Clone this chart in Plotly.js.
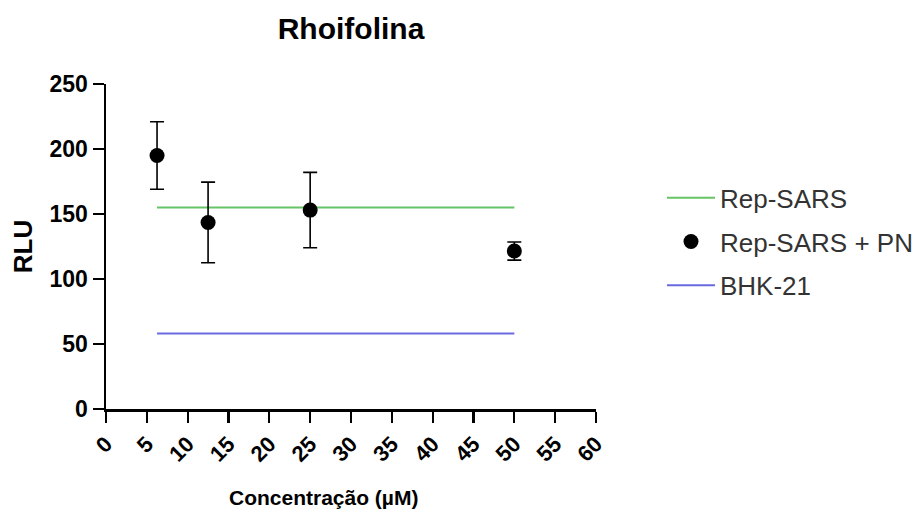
<!DOCTYPE html>
<html>
<head>
<meta charset="utf-8">
<script src="https://cdn.plot.ly/plotly-3.0.1.min.js"></script>
<style>html,body{margin:0;padding:0;background:#fff;}#chart{width:922px;height:512px;}</style>
</head>
<body>
<div id="chart"></div>
<script>
const concentrations = [6.25, 12.5, 25, 50];
const rlu = [195, 143.5, 153, 121.5];
const rluErr = [26, 31, 29, 7];
const lineX = [6.25, 50];
const repSarsLevel = [155, 155];
const bhkLevel = [58, 58];
const xTicks = [0, 5, 10, 15, 20, 25, 30, 35, 40, 45, 50, 55, 60];
const yTicks = [0, 50, 100, 150, 200, 250];

const fontFam = '"Liberation Sans", Arial, sans-serif';

const traces = [
  {
    x: lineX, y: repSarsLevel, name: 'Rep-SARS', mode: 'lines', legendgroup: 'a',
    line: {color: '#66c466', width: 2}, hoverinfo: 'skip'
  },
  {
    x: concentrations, y: rlu, name: 'Rep-SARS + PN', mode: 'markers', legendgroup: 'b',
    marker: {color: '#000', size: 15},
    error_y: {type: 'data', array: rluErr, visible: true, color: '#000', thickness: 1.6, width: 7}
  },
  {
    x: lineX, y: bhkLevel, name: 'BHK-21', mode: 'lines', legendgroup: 'c',
    line: {color: '#6a6ae0', width: 2}, hoverinfo: 'skip'
  }
];

const layout = {
  width: 922, height: 512,
  margin: {l: 106, r: 326, t: 84, b: 103, autoexpand: false},
  paper_bgcolor: '#fff', plot_bgcolor: '#fff',
  font: {family: fontFam, color: '#000'},
  title: {text: '<b>Rhoifolina</b>', font: {size: 30, family: fontFam, color: '#000'}, x: 0.5, xref: 'paper', y: 0.945, yanchor: 'middle'},
  showlegend: true,
  legend: {
    x: 1.1347, xanchor: 'left', y: 0.722, yanchor: 'top',
    font: {size: 26, family: fontFam, color: '#333'},
    tracegroupgap: 7, itemwidth: 48, bgcolor: 'rgba(0,0,0,0)'
  },
  xaxis: {
    range: [0, 60], tickvals: xTicks, ticktext: xTicks.map(String),
    tickangle: -45, ticks: 'outside', ticklen: 11, tickwidth: 2.2, tickcolor: '#000',
    showline: true, linewidth: 2.5, linecolor: '#000', showgrid: false, zeroline: false,
    tickfont: {size: 22, family: fontFam, weight: 'bold', color: '#000'}
  },
  yaxis: {
    range: [0, 250], tickvals: yTicks, ticks: 'outside', ticklen: 11, tickwidth: 2.2, tickcolor: '#000',
    showline: true, linewidth: 2.5, linecolor: '#000', showgrid: false, zeroline: false,
    tickfont: {size: 23, family: fontFam, weight: 'bold', color: '#000'},
    title: {text: '<b>RLU</b>', font: {size: 26, family: fontFam, color: '#000'}, standoff: 10}
  },
  annotations: [{
    text: '<b>Concentração (µM)</b>', xref: 'paper', yref: 'paper',
    x: 0.444, y: -0.271, xanchor: 'center', yanchor: 'middle', showarrow: false,
    font: {size: 21, family: fontFam, color: '#000'}
  }]
};

Plotly.newPlot('chart', traces, layout, {displayModeBar: false, staticPlot: true});
</script>
</body>
</html>
